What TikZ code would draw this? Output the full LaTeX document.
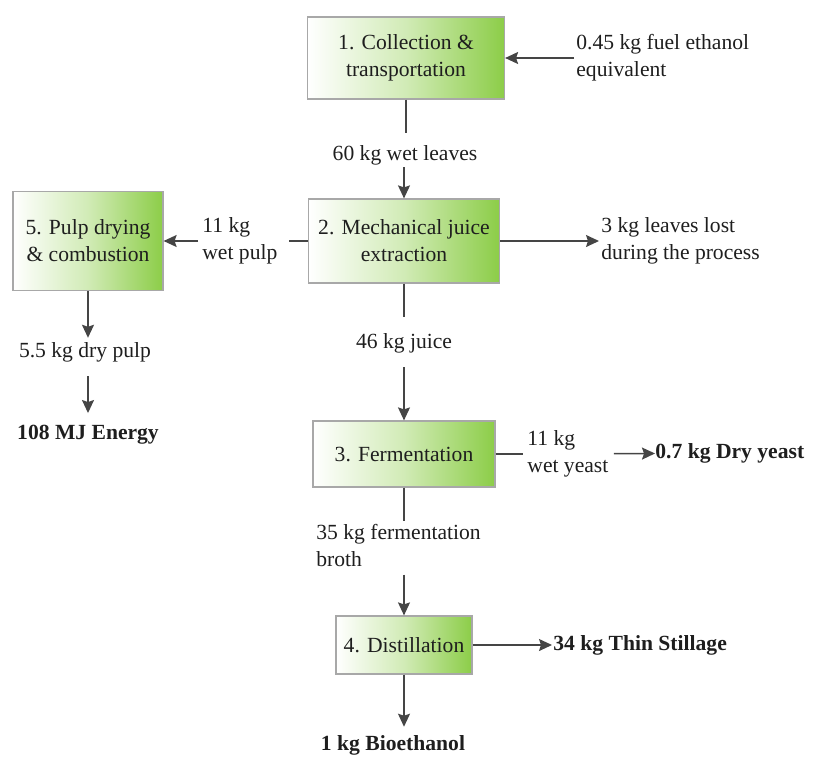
\documentclass[tikz,border=0pt]{standalone}
\usepackage{fontspec}
\setmainfont{Liberation Serif}
\usepackage{tikz}
\usetikzlibrary{arrows.meta,positioning,calc}
\definecolor{boxgreen}{HTML}{8CCD48}
\definecolor{boxframe}{HTML}{A8A8A8}
\definecolor{flowgray}{HTML}{454545}
\definecolor{ink}{HTML}{1E1E1E}

\begin{document}
\begin{tikzpicture}[
    x=0.5pt, y=-0.5pt,
    >={Stealth[length=6.5pt,width=6pt,inset=1pt]},
    font=\rmfamily\fontsize{10.8}{13.5}\selectfont,
    procbox/.style={draw=boxframe, line width=0.6pt, left color=white, right color=boxgreen, middle color=boxgreen!40, align=center, inner sep=2pt, text=ink},
    flowtext/.style={inner sep=0pt, align=left, text=ink},
    resulttext/.style={flowtext, font=\rmfamily\fontsize{10.8}{13.5}\selectfont\bfseries},
    flowline/.style={line width=0.75pt, draw=flowgray},
    flowarrow/.style={->, line width=0.75pt, draw=flowgray, color=flowgray}
]
\useasboundingbox (0,0) rectangle (829,756);

% Process steps
\node[procbox, minimum width=98.5pt, minimum height=41pt] (s1) at (406,58) {1. Collection \&\\transportation};
\node[procbox, minimum width=95.5pt, minimum height=42pt] (s2) at (404,241) {2. Mechanical juice\\extraction};
\node[procbox, minimum width=91pt, minimum height=33pt] (s3) at (404,454) {3. Fermentation};
\node[procbox, minimum width=68pt, minimum height=29pt] (s4) at (404,645) {4. Distillation};
\node[procbox, minimum width=75pt, minimum height=49.5pt] (s5) at (88,241) {5. Pulp drying\\\& combustion};

% Stream labels
\node[flowtext, anchor=west] (fuel) at (576,58) {0.45 kg fuel ethanol\\equivalent};
\node[flowtext] (w60) at (405,155) {60 kg wet leaves};
\node[flowtext, anchor=west] (lost) at (601,241) {3 kg leaves lost\\during the process};
\node[flowtext, anchor=west] (pulp) at (202,241) {11 kg\\wet pulp};
\node[flowtext] (dry) at (85,352) {5.5 kg dry pulp};
\node[flowtext] (juice) at (404,343) {46 kg juice};
\node[flowtext, anchor=west] (yeast) at (527,454) {11 kg\\wet yeast};
\node[flowtext, anchor=west] (broth) at (316,545) {35 kg fermentation\\broth};

% Products
\node[resulttext] (energy) at (88,435) {108 MJ Energy};
\node[resulttext, anchor=west] (dryy) at (655,453) {0.7 kg Dry yeast};
\node[resulttext, anchor=west] (stillage) at (553,645) {34 kg Thin Stillage};
\node[resulttext] (bioeth) at (393,745) {1 kg Bioethanol};

% Main line
\draw[flowline, shorten >=6pt] (s1.south) -- (s1.south |- w60.north);
\draw[flowarrow, shorten <=1pt] (s2.north |- w60.south) -- (s2.north);
\draw[flowarrow, shorten <=1pt] (fuel) -- (s1);
\draw[flowline, shorten >=8pt] (s2) -- (juice);
\draw[flowarrow, shorten <=7pt] (juice) -- (s3);
\draw[flowline, shorten >=1pt] (s3.south) -- (s3.south |- broth.north);
\draw[flowarrow, shorten <=4pt] (s3.south |- broth.south) -- (s4.north);
\draw[flowarrow, shorten >=4pt] (s4.south) -- (s4.south |- bioeth.north);

% Side streams
\draw[flowarrow, shorten >=1pt] (s2) -- (lost);
\draw[flowline, shorten >=5.5pt] (s2) -- (pulp);
\draw[flowarrow, shorten <=2pt] (pulp) -- (s5);
\draw[flowarrow, shorten >=2pt] (s5.south) -- (s5.south |- dry.north);
\draw[flowarrow, shorten <=7pt, shorten >=6pt] (s5.south |- dry.south) -- (s5.south |- energy.north);
\draw[flowline, shorten >=2pt] (s3) -- (yeast);
\draw[flowarrow, shorten <=2.5pt] (yeast) -- (dryy);
\draw[flowarrow, shorten >=0.5pt] (s4) -- (stillage);

\end{tikzpicture}
\end{document}
